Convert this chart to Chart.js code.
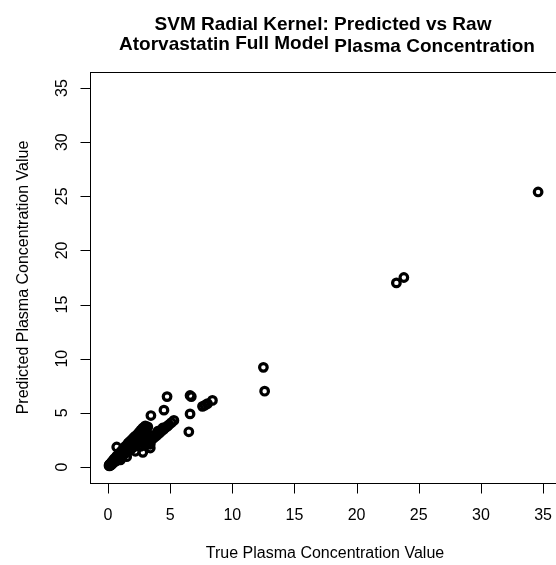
<!DOCTYPE html>
<html>
<head>
<meta charset="utf-8">
<script src="https://cdn.jsdelivr.net/npm/chart.js@4/dist/chart.umd.min.js"></script>
<style>
	html, body { margin: 0; padding: 0; background: #fff; }
	canvas { display: block; }
</style>
</head>
<body>
<canvas id="svmChart" width="556" height="565"></canvas>
<script>
// True plasma concentration (x) and SVM predicted value (y)
const trueValues = [
	0.08, 0.1, 0.12, 0.15, 0.18, 0.2, 0.22, 0.25, 0.28, 0.3, 0.32, 0.35, 0.38, 0.4, 0.42, 0.45, 0.48, 0.5, 0.52, 0.55,
	0.6, 0.62, 0.65, 0.68, 0.7, 0.72, 0.75, 0.8, 0.82, 0.85, 0.9, 0.92, 0.95, 1.0, 1.02, 1.05, 1.1, 1.12, 1.15, 1.2,
	1.22, 1.25, 1.3, 1.32, 1.35, 1.4, 1.42, 1.45, 1.5, 1.55, 1.6, 1.62, 1.65, 1.7, 1.75, 1.8, 1.85, 1.9, 1.95, 2.0,
	2.05, 2.1, 2.15, 2.2, 2.25, 2.3, 2.35, 2.4, 2.45, 2.5, 2.55, 2.6, 2.65, 2.7, 2.75, 2.8, 2.85, 2.9, 3.0, 3.05,
	3.1, 3.2, 1.5, 2.2, 1.0,
	2.6, 2.9, 3.0, 3.2, 3.3, 3.4, 3.5, 3.6, 3.7, 3.9, 4.0, 4.1, 4.3, 4.4, 4.5, 4.7, 4.8, 4.9, 5.1, 5.3,
	0.7, 2.8, 3.4, 3.45, 4.5, 4.75, 6.6, 6.7, 6.6, 6.5, 7.6, 7.8, 8.0, 8.4,
	12.5, 12.6, 23.2, 23.8, 34.6
];
const predictedValues = [
	0.12, 0.2, 0.1, 0.25, 0.15, 0.3, 0.2, 0.35, 0.22, 0.45, 0.3, 0.5, 0.35, 0.6, 0.4, 0.55, 0.45, 0.75, 0.5, 0.65,
	0.8, 0.55, 0.9, 0.7, 1.0, 0.6, 0.85, 1.1, 0.75, 1.0, 1.25, 0.85, 1.1, 1.35, 0.9, 1.2, 1.5, 1.0, 1.3, 1.6,
	1.1, 1.4, 1.75, 1.2, 1.5, 1.9, 1.3, 1.6, 2.0, 1.4, 1.8, 2.2, 1.5, 1.9, 2.35, 1.6, 2.1, 2.5, 1.75, 2.2,
	2.7, 1.9, 2.4, 2.85, 2.0, 2.5, 3.0, 2.2, 2.7, 3.2, 2.3, 2.9, 3.4, 2.5, 3.1, 3.6, 2.7, 3.3, 3.8, 3.0,
	3.5, 3.7, 0.95, 1.45, 0.65,
	1.9, 2.2, 2.0, 2.6, 2.3, 2.1, 2.5, 2.9, 2.7, 2.9, 3.3, 3.1, 3.3, 3.6, 3.5, 3.7, 3.8, 3.9, 4.1, 4.3,
	1.85, 1.35, 1.75, 4.75, 5.25, 6.5, 6.6, 6.5, 4.9, 3.25, 5.6, 5.7, 5.85, 6.15,
	9.2, 7.0, 17.0, 17.5, 25.4
];
const xTickValues = [0, 5, 10, 15, 20, 25, 30, 35];
const yTickValues = [0, 5, 10, 15, 20, 25, 30, 35];
const titleLine1 = 'SVM Radial Kernel: Predicted vs Raw';
const titleLine2 = ['Atorvastatin', 'Full Model', 'Plasma Concentration'];
const xAxisTitle = 'True Plasma Concentration Value';
const yAxisTitle = 'Predicted Plasma Concentration Value';

const points = trueValues.map((x, i) => ({ x: x, y: predictedValues[i] }));

// R-style box, axes, labels and title
const baseGraphics = {
	id: 'baseGraphics',
	afterDraw(chart) {
		const ctx = chart.ctx;
		const area = chart.chartArea;
		const xs = chart.scales.x;
		const ys = chart.scales.y;
		ctx.save();
		ctx.strokeStyle = '#000';
		ctx.fillStyle = '#000';
		ctx.lineWidth = 1;

		// box (right edge falls just outside the canvas)
		ctx.strokeRect(Math.round(area.left) + 0.5, Math.round(area.top) + 0.5,
			Math.round(area.right - area.left) + 2, Math.round(area.bottom - area.top));

		// x axis
		const xb = Math.round(area.bottom) + 0.5;
		ctx.beginPath();
		ctx.moveTo(xs.getPixelForValue(xTickValues[0]), xb);
		ctx.lineTo(xs.getPixelForValue(xTickValues[xTickValues.length - 1]), xb);
		xTickValues.forEach(v => {
			const px = Math.round(xs.getPixelForValue(v)) + 0.5;
			ctx.moveTo(px, xb);
			ctx.lineTo(px, xb + 10);
		});
		ctx.stroke();
		ctx.font = '16px "Liberation Sans", Arial, sans-serif';
		ctx.textAlign = 'center';
		ctx.textBaseline = 'alphabetic';
		xTickValues.forEach(v => ctx.fillText(String(v), xs.getPixelForValue(v), 520));
		ctx.fillText(xAxisTitle, (area.left + area.right) / 2 + 2, 558);

		// y axis
		const yl = Math.round(area.left) + 0.5;
		ctx.beginPath();
		ctx.moveTo(yl, ys.getPixelForValue(yTickValues[0]));
		ctx.lineTo(yl, ys.getPixelForValue(yTickValues[yTickValues.length - 1]));
		yTickValues.forEach(v => {
			const py = Math.round(ys.getPixelForValue(v)) + 0.5;
			ctx.moveTo(yl, py);
			ctx.lineTo(yl - 10, py);
		});
		ctx.stroke();
		yTickValues.forEach(v => {
			ctx.save();
			ctx.translate(67, ys.getPixelForValue(v));
			ctx.rotate(-Math.PI / 2);
			ctx.fillText(String(v), 0, 0);
			ctx.restore();
		});
		ctx.save();
		ctx.translate(28, (area.top + area.bottom) / 2);
		ctx.rotate(-Math.PI / 2);
		ctx.fillText(yAxisTitle, 0, 0);
		ctx.restore();

		// title
		ctx.font = 'bold 19px "Liberation Sans", Arial, sans-serif';
		const cx = (area.left + area.right) / 2;
		ctx.fillText(titleLine1, cx, 29.5);
		ctx.textAlign = 'left';
		const space = ctx.measureText(' ').width;
		const widths = titleLine2.map(t => ctx.measureText(t).width);
		const total = widths.reduce((a, b) => a + b, 0) + space * (titleLine2.length - 1);
		const baselines = [50, 48.5, 51.5];
		let tx = cx + 4 - total / 2;
		titleLine2.forEach((t, i) => {
			ctx.fillText(t, tx, baselines[i]);
			tx += widths[i] + space;
		});
		ctx.restore();
	}
};

new Chart(document.getElementById('svmChart'), {
	type: 'scatter',
	data: {
		datasets: [{
			label: 'Predicted vs True',
			data: points,
			pointStyle: 'circle',
			pointRadius: 3.8,
			pointHoverRadius: 3.8,
			borderWidth: 3.2,
			borderColor: '#000',
			backgroundColor: 'rgba(0,0,0,0)'
		}]
	},
	options: {
		responsive: false,
		devicePixelRatio: 1,
		animation: false,
		clip: false,
		layout: { autoPadding: false, padding: { left: 90, top: 72, right: 0, bottom: 82 } },
		plugins: {
			legend: { display: false },
			tooltip: { enabled: false },
			title: { display: false }
		},
		scales: {
			x: { type: 'linear', min: -1.45, max: 36.04, display: false },
			y: { type: 'linear', min: -1.48, max: 36.48, display: false }
		}
	},
	plugins: [baseGraphics]
});
</script>
</body>
</html>
